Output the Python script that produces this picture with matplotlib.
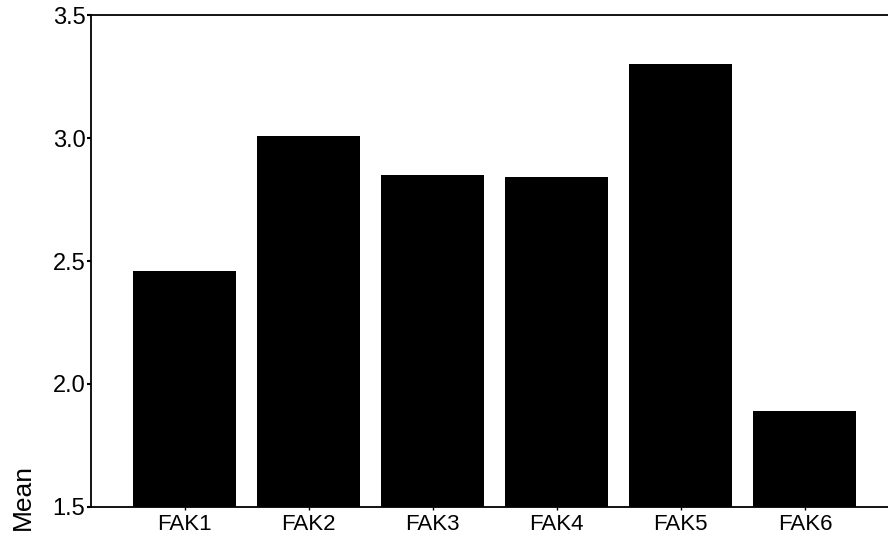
import matplotlib
matplotlib.use("Agg")
import matplotlib.pyplot as plt
import numpy as np

plt.rcParams['font.family'] = ['Liberation Sans', 'DejaVu Sans']

# bar chart data
labels = ["FAK1", "FAK2", "FAK3", "FAK4", "FAK5", "FAK6"]
means = [2.46, 3.01, 2.85, 2.84, 3.30, 1.89]
yticks = [1.5, 2.0, 2.5, 3.0, 3.5]

fig = plt.figure(figsize=(8.88, 5.37), dpi=100)
ax = fig.add_axes([0.1025, 0.0559, 0.8975, 0.9161])

x = np.arange(len(labels))
ax.bar(x, means, width=0.83, color="black", bottom=0)

ax.set_xlim(-0.754, 5.67)
ax.set_ylim(1.5, 3.5)
ax.set_yticks(yticks)
ax.set_yticklabels(["%.1f" % v for v in yticks], fontsize=17)
ax.set_xticks(x)
ax.set_xticklabels(labels, fontsize=16)

ax.spines['right'].set_visible(False)
for s in ['left', 'top', 'bottom']:
    ax.spines[s].set_linewidth(1.3)
ax.tick_params(axis='y', direction='out', length=3, width=1.5, pad=1)
ax.tick_params(axis='x', direction='out', length=2, width=1, pad=3)

ax.set_ylabel("Mean", fontsize=19)
ax.yaxis.set_label_coords(-0.071, 0.02)

fig.savefig("out.png", dpi=100)
